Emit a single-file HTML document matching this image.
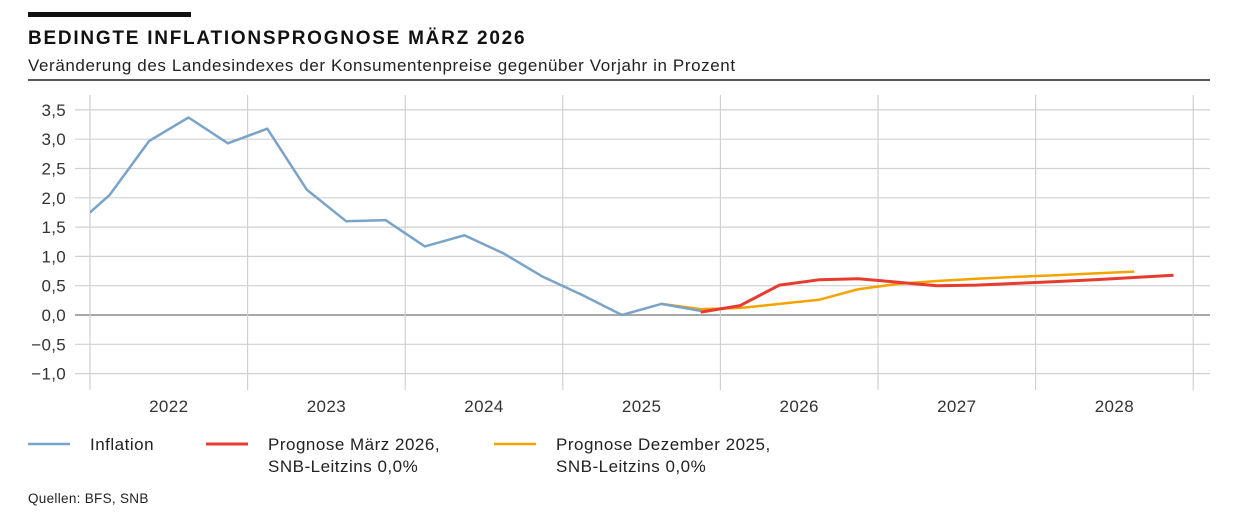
<!DOCTYPE html>
<html><head><meta charset="utf-8">
<style>
body{margin:0;background:#fff;width:1241px;height:521px;overflow:hidden;font-family:"Liberation Sans",sans-serif;}
svg text{font-family:"Liberation Sans",sans-serif;}
</style></head>
<body>
<svg width="1241" height="521">
<rect x="28" y="12" width="163" height="5" fill="#111"/>
<text x="28" y="44" font-size="19" font-weight="bold" fill="#111" letter-spacing="1.75">BEDINGTE INFLATIONSPROGNOSE MÄRZ 2026</text>
<text x="28" y="71" font-size="17" fill="#222" letter-spacing="0.6">Veränderung des Landesindexes der Konsumentenpreise gegenüber Vorjahr in Prozent</text>
<line x1="28" y1="80" x2="1210" y2="80" stroke="#222" stroke-width="1.5"/>
<g id="grid"></g>
<g id="series"></g>
<g id="legend">
<line x1="28" y1="444" x2="70" y2="444" stroke="#7aa3c9" stroke-width="2.5"/>
<text x="90" y="450" font-size="17" letter-spacing="0.5" fill="#222">Inflation</text>
<line x1="206" y1="444" x2="248" y2="444" stroke="#e63b2e" stroke-width="3"/>
<text x="268" y="450" font-size="17" letter-spacing="0.5" fill="#222"><tspan x="268">Prognose März 2026,</tspan><tspan x="268" dy="22">SNB-Leitzins 0,0%</tspan></text>
<line x1="494" y1="444" x2="536" y2="444" stroke="#f5a300" stroke-width="2.5"/>
<text x="556" y="450" font-size="17" letter-spacing="0.5" fill="#222"><tspan x="556">Prognose Dezember 2025,</tspan><tspan x="556" dy="22">SNB-Leitzins 0,0%</tspan></text>
</g>
<text x="28" y="503" font-size="13.5" letter-spacing="0.3" fill="#222">Quellen: BFS, SNB</text>
</svg>
<script>
const yTicks=[3.5,3.0,2.5,2.0,1.5,1.0,0.5,0.0,-0.5,-1.0];
const years=["2022","2023","2024","2025","2026","2027","2028"];
// quarterly values; index 0 = 2021Q4
const inflation=[1.45,2.05,2.97,3.37,2.93,3.18,2.14,1.6,1.62,1.17,1.36,1.05,0.65,0.34,0.0,0.19,0.07];
const inflationStart=-1; // quarter index relative to 2022Q1
const prognoseMaerz=[0.05,0.16,0.51,0.6,0.62,0.56,0.5,0.51,0.54,0.57,0.6,0.64,0.68];
const maerzStart=15; // 2025Q4
const prognoseDez=[0.19,0.1,0.12,0.19,0.26,0.44,0.53,0.58,0.62,0.65,0.68,0.71,0.74];
const dezStart=14; // 2025Q3
const X0=90,QW=39.4,Y0=315,PER=58.6;
const xq=q=>X0+(q+0.5)*QW;
const yv=v=>Y0-v*PER;
const NS="http://www.w3.org/2000/svg";
const grid=document.getElementById('grid'),ser=document.getElementById('series');
function mk(tag,attrs,parent){const e=document.createElementNS(NS,tag);for(const k in attrs)e.setAttribute(k,attrs[k]);parent.appendChild(e);return e;}
yTicks.forEach(v=>{
 const l=mk('line',{x1:75,x2:1210,y1:yv(v),y2:yv(v),stroke:v===0?'#a8a8a8':'#d0d0d0','stroke-width':v===0?2:1.2},grid);
 
 
 const t=mk('text',{x:66,y:yv(v)+6,'text-anchor':'end','font-size':17,'letter-spacing':0.3,fill:'#333'},grid);
 t.textContent=(v<0?'\u2212':'')+Math.abs(v).toFixed(1).replace('.',',');
 
 
});
for(let i=0;i<=years.length;i++){
 const x=X0+i*4*QW;
 const l=mk('line',{x1:x,x2:x,y1:95,y2:390,stroke:'#d0d0d0','stroke-width':1.2},grid);
 
 
}
years.forEach((y,i)=>{
 const t=mk('text',{x:X0+(i*4+2)*QW,y:412,'text-anchor':'middle','font-size':17,'letter-spacing':0.4,fill:'#333'},grid);
 t.textContent=y;
 
 
});
function pts(arr,start){return arr.map((v,i)=>xq(start+i).toFixed(1)+','+yv(v).toFixed(1)).join(' ');}
mk('clipPath',{id:'clip'},ser);
mk('rect',{x:X0,y:90,width:1120,height:300},document.getElementById('clip'));
const dz=mk('polyline',{points:pts(prognoseDez,dezStart),fill:'none',stroke:'#f5a300','stroke-width':2.5,'stroke-linejoin':'round'},ser);


const inf=mk('polyline',{points:pts(inflation,inflationStart),fill:'none',stroke:'#7aa3c9','stroke-width':2.5,'stroke-linejoin':'round','clip-path':'url(#clip)'},ser);


const mz=mk('polyline',{points:pts(prognoseMaerz,maerzStart),fill:'none',stroke:'#e63b2e','stroke-width':3,'stroke-linejoin':'round'},ser);


</script>
</body></html>
